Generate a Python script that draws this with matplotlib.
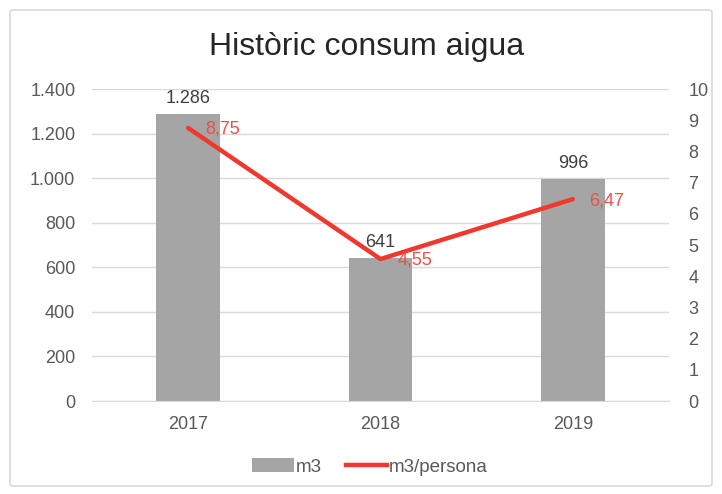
import matplotlib
matplotlib.use("Agg")
import matplotlib.pyplot as plt
from matplotlib.patches import FancyBboxPatch, Patch
from matplotlib.lines import Line2D
from matplotlib.ticker import FuncFormatter

years = ["2017", "2018", "2019"]
m3 = [1286, 641, 996]
m3_persona = [8.75, 4.55, 6.47]
left_ticks = [0, 200, 400, 600, 800, 1000, 1200, 1400]
right_ticks = list(range(0, 11))

plt.rcParams['font.family'] = ['Liberation Sans', 'DejaVu Sans']

fig = plt.figure(figsize=(7.22, 4.94), dpi=100)
fig.patch.set_facecolor("white")
border = FancyBboxPatch((10/722, 8/494), 702/722, 476/494,
                        boxstyle="round,pad=0,rounding_size=0.005",
                        transform=fig.transFigure, facecolor="none",
                        edgecolor="#d9d9d9", linewidth=1.2, zorder=-5)
fig.patches.append(border)

ax = fig.add_axes([92/722, 1-401/494, 577/722, 312/494])
ax.set_facecolor("none")
x = list(range(len(years)))
bar_color = "#a5a5a5"
line_color = "#f0382e"
txt = "#595959"
fs = 13

ax.bar(x, m3, width=0.33, color=bar_color, zorder=2)
ax.set_xlim(-0.5, 2.5)
ax.set_ylim(0, 1400)
ax.set_yticks(left_ticks)
ax.yaxis.set_major_formatter(FuncFormatter(lambda v, p: f"{int(v):,}".replace(",", ".")))
ax.set_xticks(x)
ax.set_xticklabels(years)
ax.grid(axis="y", color="#d9d9d9", linewidth=1, zorder=0)
ax.set_axisbelow(True)
for s in ax.spines.values():
    s.set_visible(False)
ax.spines["bottom"].set_visible(True)
ax.spines["bottom"].set_color("#d9d9d9")
ax.tick_params(axis="both", length=0, labelsize=fs, colors=txt)
ax.tick_params(axis="y", pad=12)
ax.tick_params(axis="x", pad=11)
for xi, v in zip(x, m3):
    ax.annotate(f"{v:,}".replace(",", "."), (xi, v), xytext=(0, 5),
                textcoords="offset points", ha="center", va="bottom",
                fontsize=fs, color="#404040")

ax2 = ax.twinx()
ax2.set_ylim(0, 10)
ax2.set_yticks(right_ticks)
for s in ax2.spines.values():
    s.set_visible(False)
ax2.tick_params(axis="y", length=0, labelsize=fs, colors=txt, pad=14)
ax2.plot(x, m3_persona, color=line_color, linewidth=3.2, zorder=3,
         solid_capstyle="round")
for xi, v in zip(x, m3_persona):
    ax2.annotate(f"{v:.2f}".replace(".", ","), (xi, v), xytext=(12, -1),
                 textcoords="offset points", ha="left", va="center",
                 fontsize=fs, color="#e8524a")

fig.text(367/722, 1-47/494, "Històric consum aigua", ha="center", va="center",
         fontsize=23, color="#262626")

handles = [Patch(facecolor=bar_color, edgecolor="none"),
           Line2D([0], [0], color=line_color, linewidth=3.2)]
fig.legend(handles, ["m3", "m3/persona"], loc="center",
           bbox_to_anchor=(370/722, 1-467/494), ncol=2, frameon=False,
           fontsize=13.5, handlelength=2.2, handletextpad=0.1,
           columnspacing=1.3, labelcolor=txt)

fig.savefig("out.png", dpi=100)
